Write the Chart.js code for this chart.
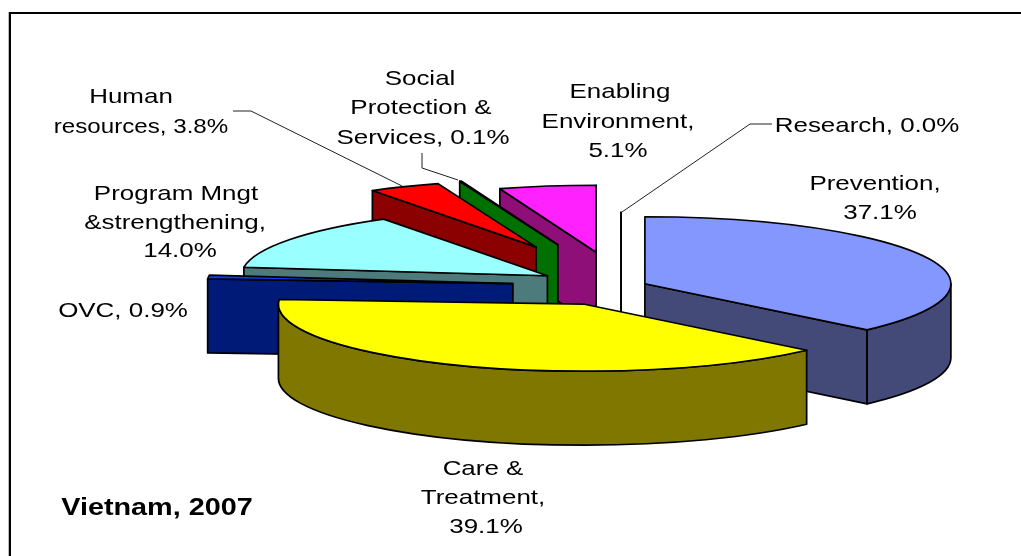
<!DOCTYPE html>
<html><head><meta charset="utf-8">
<style>html,body{margin:0;padding:0;background:#fff}#w{position:relative;width:1021px;height:556px}</style>
<script src="https://cdn.jsdelivr.net/npm/chart.js@4/dist/chart.umd.min.js"></script>
</head><body><div id="w"><canvas id="c" width="1021" height="556"></canvas></div>
<script>
const categories = ["Prevention","Care & Treatment","OVC","Program Mngt &strengthening","Human resources","Social Protection & Services","Enabling Environment","Research"];
const shares = [37.1,39.1,0.9,14.0,3.8,0.1,5.1,0.0];
const explode = [0.085,0.297,0.355,0.285,0.643,0.65,0.51,0.1];
const topColors = ["#8497ff","#ffff00","#0a3cff","#99ffff","#ff0000","#00a000","#ff22ff","#ffffff"];
const wallColors = ["#434a78","#7f7700","#001a78","#4d7a7a","#8b0000","#007000","#8f0f78","#ffffff"];
const paintOrder = [6,5,4,3,2,7,0,1];
const labelLines = [
 ["Human",131,97],["resources, 3.8%",141,127,1.15],
 ["Social",420,79],["Protection &",421,108],["Services, 0.1%",423,138],
 ["Enabling",620,92],["Environment,",618,122],["5.1%",618,151],
 ["Research, 0.0%",867,126],
 ["Prevention,",875,184],["37.1%",880,213],
 ["Program Mngt",176,194],["&strengthening,",175,223],["14.0%",180,251],
 ["OVC, 0.9%",123,311],
 ["Care &",483,469],["Treatment,",483,498],["39.1%",486,527]];
const title = ["Vietnam, 2007",157,508];
const leaders = [
 [[233,111],[251,111],[402,186]],
 [[422,153],[422,168],[458,180]],
 [[772,124],[750,124],[622,212]]];
const view = {x:621,y:286,rx:306,ry:67,depth:74};
const textStretch = 1.235, titleStretch = 1.2;

function path(ctx,cx,cy,a,b){ctx.beginPath();ctx.moveTo(cx,cy);ctx.ellipse(cx,cy,view.rx,view.ry,0,a,b);ctx.closePath();}
function quad(ctx,cx,cy,a){
  const px=cx+view.rx*Math.cos(a),py=cy+view.ry*Math.sin(a);
  ctx.beginPath();ctx.moveTo(cx,cy);ctx.lineTo(px,py);ctx.lineTo(px,py+view.depth);ctx.lineTo(cx,cy+view.depth);ctx.closePath();
  ctx.fill();ctx.stroke();
}
function text(ctx,s,x,y,k){ctx.save();ctx.translate(x,y);ctx.scale(k,1);ctx.fillText(s,0,0);ctx.restore();}

const pie3d = {
  id:'pie3d',
  beforeDatasetDraw(chart,args){
    const ctx=chart.ctx,els=chart.getDatasetMeta(args.index).data;
    ctx.save();ctx.fillStyle='#fff';ctx.fillRect(0,0,chart.width,chart.height);
    ctx.fillStyle='#bbb';ctx.fillRect(8,12,1,chart.height-12);
    ctx.fillStyle='#000';ctx.fillRect(9,12,chart.width-9,2);ctx.fillRect(9,12,2,chart.height-12);
    ctx.lineJoin='round';
    paintOrder.forEach(i=>{
      const el=els[i],a=el.startAngle,b=el.endAngle,mid=(a+b)/2;
      const cx=view.x+explode[i]*view.rx*Math.cos(mid),cy=view.y+explode[i]*view.ry*Math.sin(mid);
      ctx.strokeStyle='#000';ctx.lineWidth=1.7;ctx.fillStyle=wallColors[i];
      if(a===b||Math.cos(a)<0)quad(ctx,cx,cy,a);
      if(a===b||Math.cos(b)>0)quad(ctx,cx,cy,b);
      const f=Math.max(a,0),t=Math.min(b,Math.PI);
      if(t>f){
        ctx.beginPath();ctx.ellipse(cx,cy,view.rx,view.ry,0,f,t);
        ctx.ellipse(cx,cy+view.depth,view.rx,view.ry,0,t,f,true);ctx.closePath();
        ctx.fill();ctx.stroke();
      }
      ctx.save();
      ctx.translate(cx,cy);ctx.scale(view.rx/el.outerRadius,view.ry/el.outerRadius);ctx.translate(-el.x,-el.y);
      el.draw(ctx);
      ctx.restore();
      if(b>a){path(ctx,cx,cy,a,b);ctx.stroke();}
    });
    ctx.restore();
    return false;
  },
  afterDatasetsDraw(chart){
    const ctx=chart.ctx;ctx.save();
    ctx.strokeStyle='#222';ctx.lineWidth=1;
    leaders.forEach(l=>{ctx.beginPath();l.forEach((p,i)=>i?ctx.lineTo(p[0],p[1]):ctx.moveTo(p[0],p[1]));ctx.stroke();});
    ctx.fillStyle='#000';ctx.textAlign='center';ctx.textBaseline='middle';
    ctx.font='21px "Liberation Sans"';
    labelLines.forEach(l=>text(ctx,l[0],l[1],l[2],l[3]||textStretch));
    ctx.font='bold 24px "Liberation Sans"';
    text(ctx,title[0],title[1],title[2],titleStretch);
    ctx.restore();
  }
};
new Chart(document.getElementById('c'),{
  type:'pie',
  data:{labels:categories,datasets:[{data:shares,backgroundColor:topColors,borderWidth:0}]},
  options:{responsive:false,animation:false,plugins:{legend:{display:false},tooltip:{enabled:false}}},
  plugins:[pie3d]
});
</script></body></html>
